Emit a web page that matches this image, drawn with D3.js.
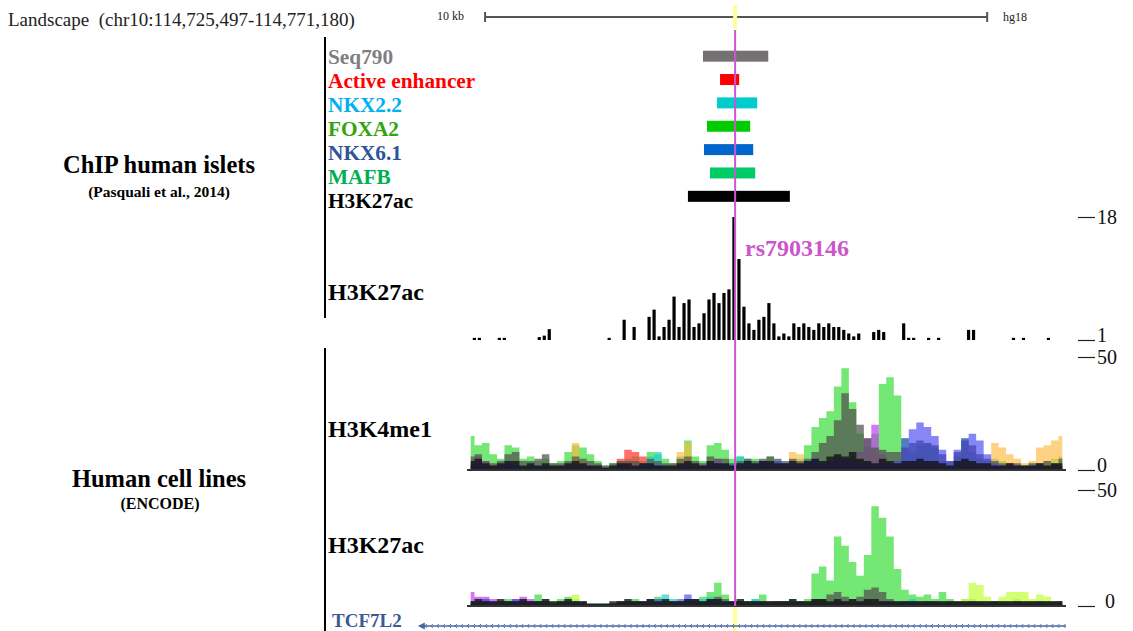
<!DOCTYPE html>
<html>
<head>
<meta charset="utf-8">
<script src="https://cdn.jsdelivr.net/npm/d3@7"></script>
<style>
    body { margin: 0; background: white; }
    svg { display: block; font-family: "Liberation Serif", "Times New Roman", serif; }
</style>
</head>
<body>
<script>
const largeur = 1133, hauteur = 631;

// positions are kb from the left edge of the browser window
const viewKb = [0, 11.93];
const scaleBarKb = [0.36, 10.36];
const snpKb = 5.34;
const geneKb = [-0.98, 11.93];

const featureNames = ["Seq790", "Active enhancer", "NKX2.2", "FOXA2", "NKX6.1", "MAFB", "H3K27ac"];
const featureStart = [4.70, 5.04, 4.98, 4.78, 4.72, 4.84, 4.40];
const featureEnd = [6.00, 5.42, 5.78, 5.64, 5.70, 5.74, 6.43];
const featureLabelColors = ["#7f7f7f", "#ff0000", "#00b0f0", "#33a30f", "#2f5597", "#00b050", "#000000"];
const featureBarColors = ["#767171", "#ff0000", "#00cccc", "#00cc00", "#0066cc", "#00cc66", "#000000"];

// islet H3K27ac signal (viewing range 1-18), 120 bins, 0 = no signal
const isletH3K27ac = [
    0, 1.3, 1.3, 0, 0, 0, 1.3, 1.3, 0, 0,
    0, 0, 0, 0, 1.4, 1.6, 2.5, 0, 0, 0,
    0, 0, 0, 0, 0, 0, 0, 0, 1.3, 0,
    0, 3.8, 0, 2.8, 0, 0, 4.2, 5.2, 1.5, 2.8,
    3.8, 7.0, 2.8, 6.1, 6.6, 2.8, 3.3, 4.7, 6.6, 7.5,
    6.1, 7.5, 8.0, 18, 12.2, 5.6, 3.3, 2.4, 3.8, 4.2,
    6.1, 3.3, 1.5, 1.9, 1.5, 3.3, 2.8, 3.3, 2.8, 2.4,
    3.3, 2.8, 3.3, 2.8, 2.8, 2.4, 1.9, 1.5, 1.9, 0,
    0, 2.1, 2.4, 2.1, 0, 0, 0, 3.3, 1.3, 1.3,
    0, 0, 1.3, 0, 1.3, 0, 0, 0, 0, 0,
    2.4, 2.4, 0, 0, 0, 0, 0, 0, 0, 1.3,
    0, 1.3, 0, 0, 0, 0, 1.3, 0, 0, 0
];

// ENCODE H3K4me1, 80 bins per cell line (0-50)
const k4Green = [
    15, 11, 12, 7, 5, 11, 10, 5, 6, 4,
    5, 3, 4, 8, 11, 10, 7, 4, 2, 3,
    4, 5, 6, 4, 8, 7, 5, 3, 6, 13,
    6, 4, 11, 12, 9, 5, 6, 4, 5, 4,
    6, 4, 3, 4, 5, 11, 19, 23, 26, 37,
    45, 30, 16, 10, 16, 38, 41, 33, 14, 8,
    11, 12, 10, 4, 3, 6, 14, 8, 5, 4,
    5, 4, 3, 2, 2, 3, 3, 4, 5, 6
];
const k4Orange = [
    2, 2, 1, 1, 1, 2, 1, 1, 1, 1,
    1, 1, 1, 2, 12, 4, 2, 1, 1, 1,
    1, 1, 1, 1, 2, 2, 1, 1, 8, 12,
    3, 1, 2, 2, 2, 1, 1, 2, 1, 1,
    2, 1, 3, 8, 7, 2, 2, 2, 2, 3,
    3, 3, 2, 2, 2, 3, 3, 2, 2, 2,
    2, 2, 2, 2, 2, 3, 3, 2, 3, 4,
    12, 10, 7, 5, 3, 4, 10, 11, 13, 15
];
const k4Red = [
    2, 1, 2, 1, 1, 2, 2, 1, 1, 1,
    2, 1, 1, 1, 2, 2, 1, 1, 1, 1,
    5, 9, 8, 6, 2, 1, 1, 1, 2, 3,
    2, 1, 2, 2, 2, 1, 1, 1, 1, 2,
    2, 1, 2, 2, 1, 2, 2, 3, 4, 5,
    5, 4, 3, 2, 2, 2, 2, 2, 2, 2,
    2, 1, 2, 1, 1, 2, 2, 2, 1, 1,
    1, 1, 2, 2, 1, 1, 2, 2, 2, 2
];
const k4Purple = [
    3, 6, 4, 2, 2, 3, 2, 1, 1, 2,
    1, 1, 2, 1, 2, 1, 1, 0, 0, 1,
    1, 1, 2, 2, 1, 2, 1, 1, 2, 2,
    1, 2, 3, 5, 2, 1, 1, 2, 1, 1,
    2, 1, 1, 1, 2, 2, 3, 2, 3, 4,
    4, 5, 8, 14, 20, 7, 3, 2, 2, 3,
    2, 2, 2, 1, 1, 2, 3, 2, 2, 1,
    1, 1, 1, 1, 0, 1, 1, 1, 1, 1
];
const k4Cyan = [
    1, 1, 1, 1, 1, 1, 1, 1, 1, 1,
    1, 1, 1, 1, 1, 1, 1, 1, 1, 1,
    1, 1, 1, 2, 6, 8, 2, 1, 1, 1,
    1, 1, 1, 2, 2, 3, 6, 5, 2, 1,
    1, 1, 1, 1, 1, 1, 1, 1, 1, 1,
    1, 1, 1, 1, 1, 1, 1, 1, 1, 1,
    1, 1, 1, 1, 1, 1, 1, 1, 1, 1,
    1, 1, 1, 1, 1, 1, 1, 1, 1, 1
];
const k4Gray = [
    6, 7, 4, 3, 4, 7, 8, 4, 4, 5,
    7, 3, 3, 4, 6, 5, 4, 3, 2, 3,
    4, 4, 4, 3, 5, 4, 3, 3, 5, 6,
    4, 3, 6, 5, 5, 3, 4, 5, 4, 5,
    6, 5, 4, 5, 4, 5, 8, 12, 15, 22,
    34, 27, 20, 14, 10, 9, 8, 8, 10, 12,
    13, 12, 11, 7, 4, 8, 13, 11, 7, 5,
    4, 3, 3, 3, 2, 3, 3, 4, 3, 5
];
const k4Blue = [
    2, 3, 2, 1, 2, 3, 2, 1, 2, 1,
    2, 1, 1, 2, 2, 1, 2, 1, 1, 1,
    2, 2, 1, 2, 3, 2, 1, 1, 2, 2,
    1, 2, 2, 3, 2, 2, 3, 2, 3, 4,
    3, 4, 3, 2, 3, 4, 5, 3, 4, 6,
    5, 4, 3, 3, 2, 3, 3, 4, 14, 18,
    21, 19, 15, 9, 4, 9, 14, 16, 13, 7,
    3, 2, 2, 2, 1, 2, 2, 1, 2, 2
];
const k4Black = [
    4, 5, 3, 2, 3, 4, 4, 2, 3, 2,
    3, 2, 2, 3, 4, 3, 2, 2, 1, 2,
    3, 3, 2, 3, 3, 2, 2, 2, 3, 4,
    3, 2, 4, 3, 3, 2, 3, 4, 3, 4,
    4, 3, 3, 4, 3, 4, 5, 4, 6, 7,
    6, 8, 5, 4, 3, 5, 4, 3, 4, 4,
    5, 4, 4, 3, 2, 4, 5, 4, 3, 3,
    2, 2, 3, 2, 2, 2, 3, 2, 3, 3
];

// ENCODE H3K27ac, 80 bins per cell line (0-50)
const k27Green = [
    2, 2, 3, 2, 2, 3, 2, 3, 2, 5,
    3, 2, 3, 4, 3, 2, 1, 1, 1, 1,
    2, 2, 3, 2, 3, 4, 3, 2, 2, 3,
    3, 4, 6, 10, 5, 2, 2, 2, 3, 5,
    2, 2, 2, 3, 2, 3, 14, 17, 11, 30,
    26, 19, 13, 22, 43, 38, 30, 16, 7, 5,
    4, 5, 3, 6, 3, 2, 3, 3, 2, 2,
    2, 2, 2, 3, 2, 2, 2, 2, 2, 2
];
const k27Lime = [
    1, 1, 1, 1, 2, 1, 1, 1, 1, 1,
    1, 1, 2, 2, 5, 2, 1, 0, 0, 1,
    1, 1, 1, 1, 1, 1, 1, 1, 1, 1,
    1, 1, 1, 1, 1, 1, 1, 1, 1, 1,
    1, 1, 1, 1, 1, 1, 1, 1, 1, 1,
    1, 1, 1, 1, 1, 1, 1, 1, 1, 1,
    1, 1, 2, 2, 1, 1, 3, 10, 9, 4,
    2, 4, 6, 6, 6, 3, 5, 4, 2, 2
];
const k27Purple = [
    6, 4, 4, 3, 2, 2, 3, 4, 3, 2,
    1, 1, 1, 1, 1, 1, 0, 0, 0, 1,
    1, 1, 1, 1, 1, 1, 1, 1, 1, 1,
    1, 1, 1, 1, 1, 1, 1, 1, 1, 1,
    1, 1, 1, 1, 1, 1, 1, 1, 1, 1,
    1, 1, 1, 1, 1, 1, 1, 1, 1, 1,
    1, 1, 1, 1, 1, 1, 1, 1, 1, 1,
    1, 1, 1, 1, 1, 1, 1, 1, 1, 1
];
const k27Blue = [
    2, 2, 3, 2, 2, 2, 3, 2, 2, 2,
    2, 1, 2, 2, 2, 1, 1, 1, 1, 1,
    2, 2, 2, 2, 3, 3, 2, 2, 3, 5,
    3, 2, 3, 3, 2, 2, 2, 1, 2, 2,
    1, 2, 2, 1, 2, 1, 2, 2, 1, 2,
    2, 1, 2, 2, 1, 2, 2, 1, 2, 2,
    1, 2, 2, 1, 2, 1, 1, 2, 1, 1,
    2, 1, 1, 2, 1, 1, 2, 1, 1, 2
];
const k27Cyan = [
    1, 1, 1, 1, 1, 1, 2, 2, 1, 1,
    1, 1, 1, 1, 1, 1, 1, 1, 1, 1,
    1, 1, 2, 2, 2, 3, 5, 3, 2, 2,
    2, 3, 4, 3, 2, 2, 2, 2, 3, 2,
    1, 1, 2, 1, 1, 1, 2, 1, 1, 1,
    1, 1, 1, 1, 1, 1, 1, 2, 2, 3,
    2, 2, 1, 1, 1, 1, 1, 1, 1, 1,
    1, 1, 1, 1, 1, 1, 1, 1, 1, 1
];
const k27Gray = [
    2, 2, 2, 1, 2, 2, 2, 2, 2, 2,
    2, 1, 2, 2, 2, 2, 1, 1, 1, 1,
    2, 2, 2, 2, 2, 2, 2, 2, 2, 2,
    2, 2, 3, 4, 3, 2, 2, 2, 2, 2,
    2, 2, 2, 2, 2, 2, 3, 3, 5, 6,
    4, 3, 4, 7, 8, 6, 3, 2, 2, 2,
    2, 2, 2, 2, 2, 2, 2, 2, 2, 2,
    2, 2, 2, 2, 2, 2, 2, 2, 2, 2
];
const k27Black = [
    2, 3, 2, 2, 3, 2, 2, 3, 2, 2,
    3, 2, 2, 3, 2, 2, 1, 1, 1, 2,
    2, 3, 2, 2, 3, 2, 3, 2, 2, 3,
    3, 2, 3, 3, 2, 2, 3, 2, 2, 2,
    2, 2, 2, 3, 2, 2, 3, 3, 2, 3,
    2, 3, 2, 3, 3, 2, 2, 2, 2, 2,
    2, 2, 2, 2, 2, 2, 2, 2, 2, 2,
    2, 2, 2, 2, 2, 2, 2, 2, 2, 2
];

const svgSpace = d3.select("body").append("svg")
    .attr("width", largeur)
    .attr("height", hauteur);

const x = d3.scaleLinear().domain(viewKb).range([467, 1066]);
const yIslet = d3.scaleLinear().domain([1, 18]).range([340, 217]);
const yK4 = d3.scaleLinear().domain([0, 50]).range([470, 357]);
const yK27 = d3.scaleLinear().domain([0, 50]).range([606, 490]);

drawHeader();
drawFeatures();
drawIslet();
drawLayers([
    [k4Green, "#4de04d", 0.78],
    [k4Orange, "#ffb840", 0.65],
    [k4Red, "#ff3030", 0.7],
    [k4Purple, "#c040f0", 0.7],
    [k4Cyan, "#20d0d0", 0.7],
    [k4Gray, "#505050", 0.72],
    [k4Blue, "#3b3bf0", 0.62],
    [k4Black, "#111111", 0.8]
], yK4);
drawLayers([
    [k27Green, "#4de04d", 0.78],
    [k27Lime, "#c8ff50", 0.8],
    [k27Purple, "#c040f0", 0.7],
    [k27Cyan, "#20d0d0", 0.7],
    [k27Blue, "#3b3bf0", 0.62],
    [k27Gray, "#505050", 0.72],
    [k27Black, "#111111", 0.8]
], yK27);
drawGene();
drawSnp();
drawLabels();
drawAxis(yIslet, [1, 18], 2);
drawAxis(yK4, [0, 50], 2);
drawAxis(yK27, [0, 50], 10);

function drawHeader() {
    addText("Landscape  (chr10:114,725,497-114,771,180)", 8, 26, "#222", "19px", "normal", "start")
        .style("white-space", "pre");
    addText("10 kb", 437, 20, "#222", "12px", "normal", "start");
    addText("hg18", 1003, 21, "#222", "12px", "normal", "start");

    const barG = svgSpace.append("g").attr("stroke", "#555").attr("stroke-width", 2);
    barG.append("line")
        .attr("x1", x(scaleBarKb[0])).attr("x2", x(scaleBarKb[1]))
        .attr("y1", 17).attr("y2", 17);
    barG.selectAll(".endTick")
        .data(scaleBarKb)
        .enter()
        .append("line")
        .attr("x1", (d) => x(d)).attr("x2", (d) => x(d))
        .attr("y1", 12).attr("y2", 22);

    // highlight of the SNP position
    svgSpace.append("rect")
        .attr("x", x(snpKb) - 2).attr("y", 5)
        .attr("width", 4).attr("height", 24)
        .attr("fill", "#ffff99");
    svgSpace.append("rect")
        .attr("x", x(snpKb) - 2).attr("y", 607)
        .attr("width", 4).attr("height", 24)
        .attr("fill", "#ffff99");
}

function drawFeatures() {
    const rowY = d3.scaleBand().domain(featureNames).range([44.5, 208]);
    const labelY = d3.scalePoint().domain(featureNames).range([63.5, 208]);

    svgSpace.append("g")
        .selectAll("rect")
        .data(featureNames)
        .enter()
        .append("rect")
        .attr("x", (d, i) => x(featureStart[i]))
        .attr("width", (d, i) => x(featureEnd[i]) - x(featureStart[i]))
        .attr("y", (d) => rowY(d) + (rowY.bandwidth() - 11) / 2)
        .attr("height", 11)
        .attr("fill", (d, i) => featureBarColors[i]);

    svgSpace.append("g")
        .selectAll("text")
        .data(featureNames)
        .enter()
        .append("text")
        .text((d) => d)
        .attr("x", 328)
        .attr("y", (d) => labelY(d))
        .attr("fill", (d, i) => featureLabelColors[i])
        .style("font-size", "21.3px")
        .style("font-weight", "bold");
}

function drawIslet() {
    const binKb = (viewKb[1] - viewKb[0]) / isletH3K27ac.length;
    const bins = isletH3K27ac
        .map((v, i) => ({ start: viewKb[0] + i * binKb, v: v }))
        .filter((d) => d.v > 0);

    svgSpace.append("g")
        .selectAll("rect")
        .data(bins)
        .enter()
        .append("rect")
        .attr("x", (d) => x(d.start) + 0.8)
        .attr("width", x(binKb) - x(0) - 1.8)
        .attr("y", (d) => Math.min(yIslet(d.v), yIslet(1) - 1.5))
        .attr("height", (d) => Math.max(1.5, yIslet(1) - yIslet(d.v)))
        .attr("fill", "#000");
}

function drawLayers(series, yScale) {
    const g = svgSpace.append("g");
    series.forEach(([values, color, alpha]) => {
        const step = (viewKb[1] - viewKb[0]) / values.length;
        const area = d3.area()
            .curve(d3.curveStep)
            .x((d, i) => x(viewKb[0] + (i + 0.5) * step))
            .y0(yScale(0))
            .y1((d) => yScale(d));
        g.append("path")
            .datum(values)
            .attr("d", area)
            .attr("fill", color)
            .attr("fill-opacity", alpha);
    });
    g.append("line")
        .attr("x1", x(viewKb[0])).attr("x2", x(viewKb[1]))
        .attr("y1", yScale(0)).attr("y2", yScale(0))
        .attr("stroke", "#333")
        .attr("stroke-width", 2);
}

function drawGene() {
    const geneY = 626;
    const g = svgSpace.append("g").attr("stroke", "#4a68a8");
    g.append("line")
        .attr("x1", x(geneKb[0]) + 2).attr("x2", x(geneKb[1]))
        .attr("y1", geneY).attr("y2", geneY)
        .attr("stroke-width", 1.3);
    g.selectAll(".chev")
        .data(d3.range(geneKb[0] + 0.15, geneKb[1], 0.12))
        .enter()
        .append("path")
        .attr("d", (d) => `M${x(d) + 1.5},${geneY - 2}L${x(d) - 0.5},${geneY}L${x(d) + 1.5},${geneY + 2}`)
        .attr("fill", "none")
        .attr("stroke-width", 0.9);
    g.append("path")
        .attr("d", `M${x(geneKb[0])},${geneY}L${x(geneKb[0]) + 7},${geneY - 3.5}L${x(geneKb[0]) + 7},${geneY + 3.5}Z`)
        .attr("fill", "#4a68a8")
        .attr("stroke", "none");
}

function drawSnp() {
    svgSpace.append("line")
        .attr("x1", x(snpKb)).attr("x2", x(snpKb))
        .attr("y1", 30).attr("y2", 606)
        .attr("stroke", "#cc55d0")
        .attr("stroke-width", 2);
    addText("rs7903146", x(snpKb) + 10, 256, "#cc55cc", "24px", "bold", "start");
}

function drawLabels() {
    const sep = svgSpace.append("g").attr("stroke", "#000").attr("stroke-width", 2);
    sep.append("line").attr("x1", 325).attr("x2", 325).attr("y1", 37).attr("y2", 318);
    sep.append("line").attr("x1", 325).attr("x2", 325).attr("y1", 348).attr("y2", 631);

    addText("ChIP human islets", 159, 173, "#000", "24.5px", "bold", "middle");
    addText("(Pasquali et al., 2014)", 159, 197, "#000", "15.5px", "bold", "middle");
    addText("Human cell lines", 159, 487, "#000", "24.5px", "bold", "middle");
    addText("(ENCODE)", 160, 509, "#000", "16px", "bold", "middle");

    addText("H3K27ac", 328, 300, "#000", "24px", "bold", "start");
    addText("H3K4me1", 328, 437, "#000", "24px", "bold", "start");
    addText("H3K27ac", 328, 553, "#000", "24px", "bold", "start");
    addText("TCF7L2", 332, 627, "#3a5a9a", "19px", "bold", "start");
}

function drawAxis(yScale, ticks, bottomGap) {
    const axisG = svgSpace.append("g")
        .attr("transform", "translate(1078,0)")
        .call(d3.axisRight(yScale).tickValues(ticks).tickSize(17).tickPadding(2).tickFormat(d3.format("d")));
    axisG.select(".domain").remove();
    axisG.selectAll("line").attr("stroke", "#222").attr("stroke-width", 1.2);
    axisG.selectAll("text")
        .attr("fill", "#111")
        .attr("x", (d) => d === ticks[0] ? 17 + bottomGap : 19)
        .attr("dy", (d) => d === ticks[0] ? "0.07em" : "0.32em")
        .style("font-family", "'Liberation Serif', serif")
        .style("font-size", "20px");
}

function addText(txt, xPos, yPos, color, fontSize, weight, anchor) {
    return svgSpace
        .append("text")
        .text(txt)
        .attr("x", xPos)
        .attr("y", yPos)
        .attr("fill", color)
        .style("font-size", fontSize)
        .style("font-weight", weight)
        .style("text-anchor", anchor);
}
</script>
</body>
</html>
